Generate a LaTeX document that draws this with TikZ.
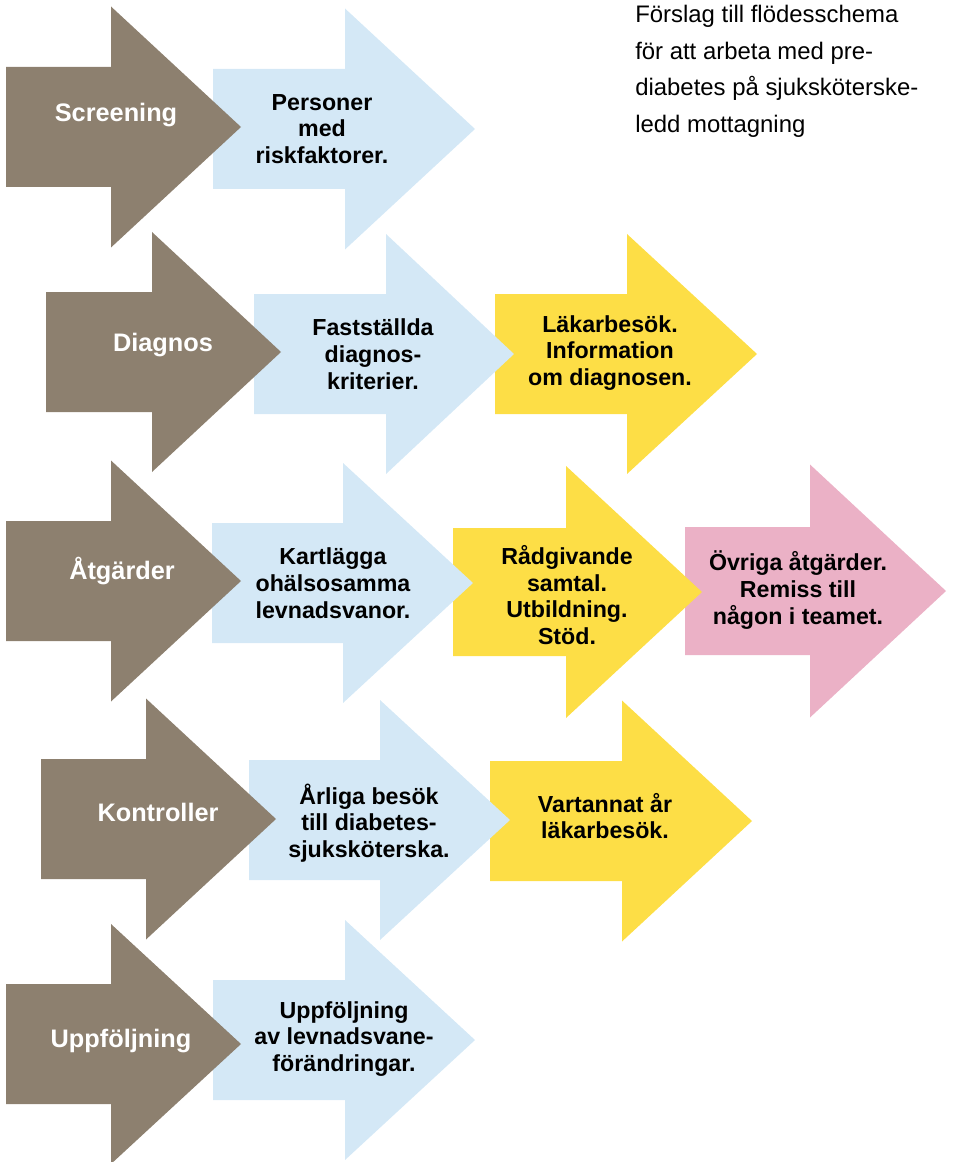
\documentclass[tikz,border=0pt]{standalone}
\usepackage{fontspec}
\setmainfont{Liberation Sans}
\usepackage{tikz}

\definecolor{brun}{RGB}{141,128,111}
\definecolor{ljusbla}{RGB}{212,232,246}
\definecolor{gul}{RGB}{253,222,70}
\definecolor{rosa}{RGB}{235,177,198}

% #1 farg, #2 vanster x, #3 mitt y, #4 huvudets bas, #5 spets, #6 halv kropp, #7 halvt huvud
\newcommand{\pil}[7]{\fill[#1] (#2,#3-#6) -- (#4,#3-#6) -- (#4,#3-#7) -- (#5,#3) -- (#4,#3+#7) -- (#4,#3+#6) -- (#2,#3+#6) -- cycle;}

\tikzset{
	rubrik/.style={text=white,inner sep=0,font=\bfseries\fontsize{18}{21}\selectfont},
	steg/.style={align=center,inner sep=0,font=\bfseries\fontsize{16.5}{19}\selectfont},
	titeltext/.style={align=left,inner sep=0,anchor=north west,font=\fontsize{17}{26}\selectfont}
}

\begin{document}
\begin{tikzpicture}[x=0.025cm,y=-0.025cm]
	\useasboundingbox (0,0) rectangle (952,1162);

	\pil{ljusbla}{213}{129}{345}{475}{60}{120.5}
	\pil{brun}{6}{127}{111}{241}{60}{120.5}

	\pil{gul}{495}{354}{627}{757}{60}{120}
	\pil{ljusbla}{254}{354}{386}{514}{60}{120}
	\pil{brun}{46}{352}{152}{281}{60}{120}

	\pil{rosa}{685}{591}{810}{946}{64}{126.5}
	\pil{gul}{453}{592}{566}{702}{64}{126}
	\pil{ljusbla}{212}{583}{343}{473}{60}{120}
	\pil{brun}{6}{581}{111}{241}{60}{120.5}

	\pil{gul}{490}{821}{622}{752}{60}{120.5}
	\pil{ljusbla}{249}{820}{380}{510}{60}{120}
	\pil{brun}{41}{819}{146}{276}{60}{120.5}

	\pil{ljusbla}{213}{1040}{345}{475}{60}{120}
	\pil{brun}{6}{1044}{111}{241}{60}{120}

	\node[rubrik](screening) at (116,115) {Screening};
	\node[steg](personer) at (322,129) {Personer\\med\\riskfaktorer.};

	\node[rubrik](diagnos) at (163,345) {Diagnos};
	\node[steg](kriterier) at (373,354) {Fastställda\\diagnos-\\kriterier.};
	\node[steg](lakarbesok) at (610,353) {Läkarbesök.\\Information\\om diagnosen.};

	\node[rubrik](atgarder) at (122,571) {Åtgärder};
	\node[steg](kartlagga) at (333,583) {Kartlägga\\ohälsosamma\\levnadsvanor.};
	\node[steg](radgivande) at (567,595) {Rådgivande\\samtal.\\Utbildning.\\Stöd.};
	\node[steg](ovriga) at (798,590) {Övriga åtgärder.\\Remiss till\\någon i teamet.};

	\node[rubrik](kontroller) at (158,812) {Kontroller};
	\node[steg](arliga) at (369,823) {Årliga besök\\till diabetes-\\sjuksköterska.};
	\node[steg](vartannat) at (605,816) {Vartannat år\\läkarbesök.};

	\node[rubrik](uppfoljning) at (121,1041) {Uppföljning};
	\node[steg](levnadsvane) at (344,1039) {Uppföljning\\av levnadsvane-\\förändringar.};

	\node[titeltext](titel) at (635,5) {Förslag till flödesschema\\för att arbeta med pre-\\diabetes på sjuksköterske-\\ledd mottagning};
\end{tikzpicture}
\end{document}
